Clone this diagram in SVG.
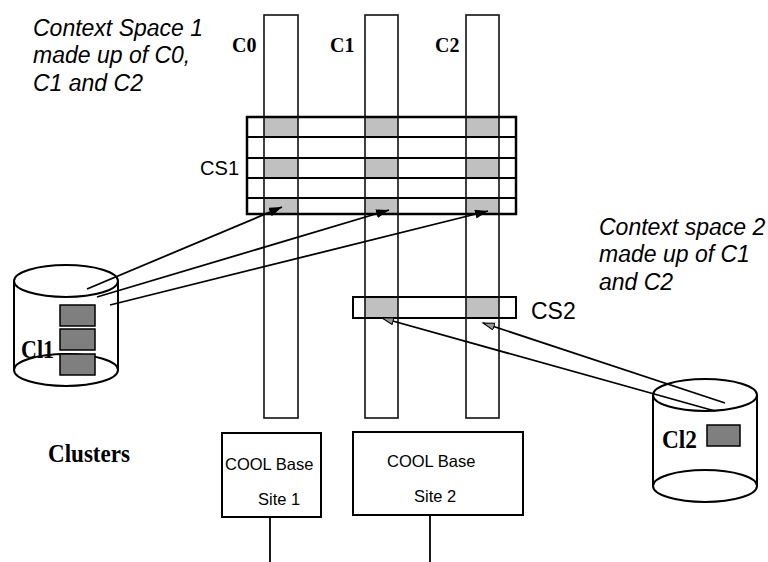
<svg xmlns="http://www.w3.org/2000/svg" width="768" height="562" viewBox="0 0 768 562">
<defs>
<style>
.it{font-family:"Liberation Sans",Arial,sans-serif;font-style:italic;font-size:23px;fill:#000}
.sans{font-family:"Liberation Sans",Arial,sans-serif;fill:#000}
.tb{font-family:"Liberation Serif","Times New Roman",serif;font-weight:bold;fill:#000}
.col{fill:none;stroke:#111;stroke-width:1.6}
.cell{fill:#c0c0c0;stroke:none}
.row{stroke:#000;stroke-width:2;fill:none}
.box{fill:#fff;stroke:#000;stroke-width:2}
.cyl{fill:none;stroke:#000;stroke-width:2}
.blk{fill:#7f7f7f;stroke:#000;stroke-width:1.5}
.conn{stroke:#000;stroke-width:1.8;fill:none}
</style>
<marker id="ahB" markerUnits="userSpaceOnUse" markerWidth="14" markerHeight="10" refX="13" refY="4.5" orient="auto">
<path d="M0,0 L13,4.5 L0,9 z" fill="#000"/>
</marker>
<marker id="ahG" markerUnits="userSpaceOnUse" markerWidth="14" markerHeight="10" refX="12" refY="4" orient="auto">
<path d="M0.5,0.5 L12,4 L0.5,7.5 z" fill="#999" stroke="#000" stroke-width="1"/>
</marker>
</defs>
<rect width="768" height="562" fill="#fff"/>

<g id="label-cs1-desc">
<text class="it" x="33" y="36">Context Space 1</text>
<text class="it" x="33" y="63">made up of C0,</text>
<text class="it" x="33" y="91">C1 and C2</text>
</g>
<g id="label-cs2-desc">
<text class="it" x="599" y="235">Context space 2</text>
<text class="it" x="599" y="262">made up of C1</text>
<text class="it" x="599" y="290">and C2</text>
</g>

<g id="cs1">
<rect class="cell" x="264" y="117" width="34" height="20"/>
<rect class="cell" x="365" y="117" width="33" height="20"/>
<rect class="cell" x="466" y="117" width="33" height="20"/>
<rect class="cell" x="264" y="158" width="34" height="20"/>
<rect class="cell" x="365" y="158" width="33" height="20"/>
<rect class="cell" x="466" y="158" width="33" height="20"/>
<rect class="cell" x="264" y="198" width="34" height="16"/>
<rect class="cell" x="365" y="198" width="33" height="16"/>
<rect class="cell" x="466" y="198" width="33" height="16"/>
<rect x="247" y="117" width="269" height="97" fill="none" stroke="#000" stroke-width="2.5"/>
<path class="row" d="M247,137 H516 M247,158 H516 M247,178 H516 M247,198 H516"/>
<text class="sans" x="239" y="175" font-size="20" text-anchor="end">CS1</text>
</g>

<g id="cs2">
<rect x="353" y="297" width="163" height="21" fill="#fff" stroke="#000" stroke-width="2"/>
<rect class="cell" x="365" y="298" width="33" height="19"/>
<rect class="cell" x="466" y="298" width="33" height="19"/>
<text class="sans" x="531" y="319" font-size="23">CS2</text>
</g>

<g id="columns">
<rect class="col" x="264" y="15" width="34" height="403"/>
<rect class="col" x="365" y="15" width="33" height="403"/>
<rect class="col" x="466" y="15" width="33" height="403"/>
<text class="tb" x="232" y="52" font-size="20">C0</text>
<text class="tb" x="330" y="52" font-size="20">C1</text>
<text class="tb" x="435" y="52" font-size="20">C2</text>
</g>

<g id="cl1">
<ellipse class="cyl" cx="66" cy="370" rx="52" ry="16"/>
<path class="cyl" d="M14,281 V370 M118,281 V370"/>
<ellipse class="cyl" cx="66" cy="281" rx="52" ry="16"/>
<rect class="blk" x="60" y="305" width="35" height="21"/>
<rect class="blk" x="60" y="329" width="35" height="21"/>
<rect class="blk" x="60" y="354" width="35" height="21"/>
<text class="tb" x="21" y="358" font-size="25" textLength="33" lengthAdjust="spacingAndGlyphs">Cl1</text>
</g>

<g id="clusters-label">
<text class="tb" x="48" y="462" font-size="26" textLength="82" lengthAdjust="spacingAndGlyphs">Clusters</text>
</g>

<g id="cl2">
<ellipse class="cyl" cx="705" cy="486" rx="52" ry="16"/>
<path class="cyl" d="M653,395 V486 M757,395 V486"/>
<ellipse class="cyl" cx="705" cy="395" rx="52" ry="16"/>
<rect class="blk" x="707" y="425" width="33" height="21"/>
<text class="tb" x="662" y="448" font-size="25" textLength="35" lengthAdjust="spacingAndGlyphs">Cl2</text>
</g>

<g id="site1">
<rect class="box" x="222" y="433" width="99" height="84"/>
<text class="sans" x="225" y="470" font-size="16.5">COOL Base</text>
<text class="sans" x="258" y="505" font-size="16.5">Site 1</text>
</g>
<g id="site2">
<rect class="box" x="353" y="432" width="170" height="83"/>
<text class="sans" x="387" y="467" font-size="16.5">COOL Base</text>
<text class="sans" x="414" y="502" font-size="16.5">Site 2</text>
</g>

<g id="connectors">
<line class="conn" x1="87" y1="289" x2="282" y2="207" marker-end="url(#ahB)"/>
<line class="conn" x1="97" y1="297" x2="389" y2="210" marker-end="url(#ahB)"/>
<line class="conn" x1="110" y1="305" x2="488" y2="211" marker-end="url(#ahB)"/>
<line class="conn" x1="715" y1="411" x2="382" y2="318" marker-end="url(#ahG)"/>
<line class="conn" x1="725" y1="403" x2="483" y2="323" marker-end="url(#ahG)"/>
<line class="conn" x1="270" y1="517" x2="270" y2="562"/>
<line class="conn" x1="430" y1="515" x2="430" y2="562"/>
</g>
</svg>
